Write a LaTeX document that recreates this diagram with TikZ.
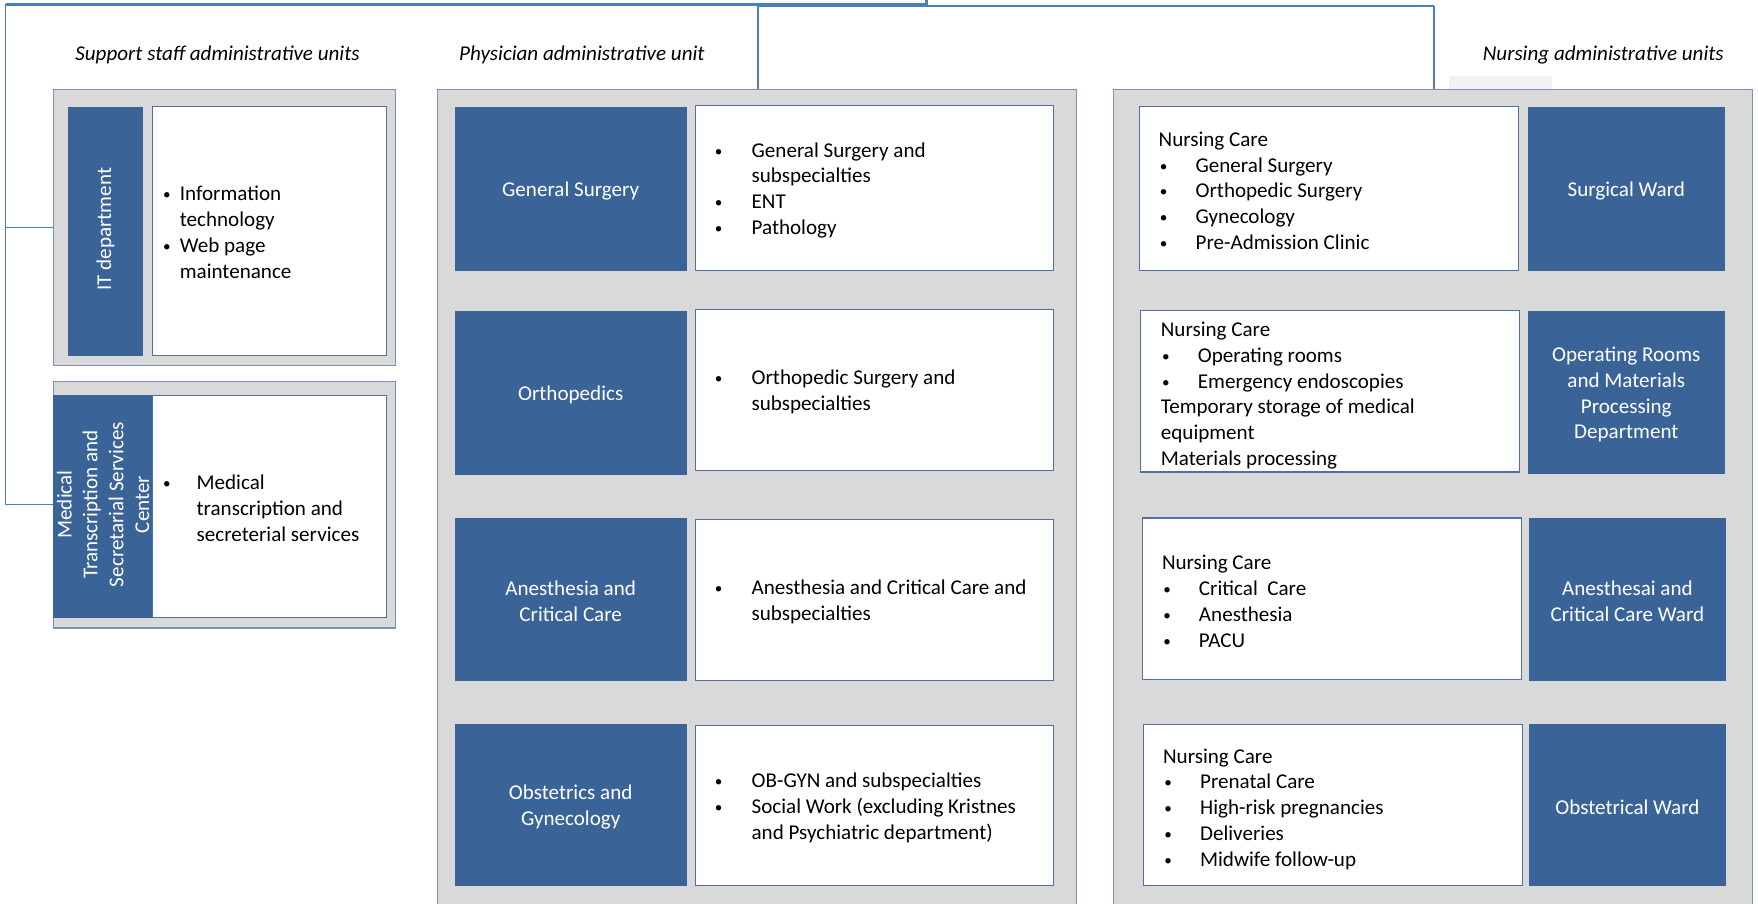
\documentclass[tikz,border=0pt]{standalone}
\usepackage{fontspec}
\setmainfont{Carlito}
\usetikzlibrary{fit}
\definecolor{darkb}{RGB}{58,100,151}
\definecolor{connblue}{RGB}{74,126,187}
\definecolor{panelgray}{RGB}{217,217,217}
\definecolor{panelline}{RGB}{120,146,184}
\definecolor{wline}{RGB}{79,112,163}
\definecolor{faint}{RGB}{242,242,242}
\newcommand\bu[1]{\makebox[#1][l]{\hspace{0.6pt}\raisebox{0.45pt}{\scalebox{0.72}{•}}}}
\begin{document}
\begin{tikzpicture}[x=0.5pt,y=-0.5pt,
  every node/.style={font=\fontsize{9.4}{11.5}\selectfont},
  panel/.style={draw=panelline, fill=panelgray, line width=0.6pt, inner sep=0pt},
  dbox/.style={fill=darkb, draw=darkb, inner sep=0pt},
  wbox/.style={fill=white, draw=wline, line width=0.5pt, inner sep=0pt},
  dtext/.style={text=white, align=center, inner sep=0pt, yshift=-1pt},
  rtext/.style={text=white, align=center, inner sep=0pt, rotate=90},
  ltext/.style={anchor=west, align=left, inner sep=0pt, text=black, yshift=-1pt},
  ttl/.style={font=\fontsize{9.4}{11.5}\selectfont\itshape, inner sep=0pt, yshift=-0.5pt},
  conn/.style={draw=connblue, line width=0.7pt}]
\useasboundingbox (0,0) rectangle (1568,806);
\clip (0,0) rectangle (1568,806);

% titles
\node[ttl] (t1) at (194,48) {Support staff administrative units};
\node[ttl] (t2) at (519,48) {Physician administrative unit};
\node[ttl] (t3) at (1430,48) {Nursing administrative units};
\fill[faint] (1292,68) rectangle (1384,80);

% panels
\node[panel, fit={(48,80)(353,326)}] (sp1) {};
\node[panel, fit={(48,340)(353,560)}] (sp2) {};
\node[panel, fit={(390,80)(960,840)}] (pp) {};
\node[panel, fit={(993,80)(1563,840)}] (np) {};

% support staff
\node[dbox, fit={(61,96)(127,317)}] (it) {};
\node[rtext, xshift=1pt] (itl) at (it.center) {IT department};
\node[wbox, fit={(136,95)(345,317)}] (itw) {};
\node[ltext] (itt) at (144,207) {\begin{tabular}{@{}l@{}l@{}}
\bu{8pt}&Information\\ &technology\\ \bu{8pt}&Web page\\ &maintenance\end{tabular}};

\node[dbox, fit={(48,353)(136,551)}] (mt) {};
\node[rtext, xshift=1pt] (mtl) at (mt.center) {Medical\\Transcription and\\Secretarial Services\\Center};
\node[wbox, fit={(136,353)(345,551)}] (mtw) {};
\node[ltext] (mtt) at (144,453) {\begin{tabular}{@{}l@{}l@{}}
\bu{15.5pt}&Medical\\ &transcription and\\ &secreterial services\end{tabular}};

% physician
\node[dbox, fit={(406,96)(612,241)}] (p1) {};
\node[dtext] (p1l) at (p1.center) {General Surgery};
\node[wbox, fit={(620,94)(940,241)}] (p1w) {};
\node[ltext] (p1t) at (636,168) {\begin{tabular}{@{}l@{}l@{}}
\bu{17pt}&General Surgery and\\ &subspecialties\\ \bu{17pt}&ENT\\ \bu{17pt}&Pathology\end{tabular}};

\node[dbox, fit={(406,278)(612,423)}] (p2) {};
\node[dtext] (p2l) at (p2.center) {Orthopedics};
\node[wbox, fit={(620,276)(940,420)}] (p2w) {};
\node[ltext] (p2t) at (636,348) {\begin{tabular}{@{}l@{}l@{}}
\bu{17pt}&Orthopedic Surgery and\\ &subspecialties\end{tabular}};

\node[dbox, fit={(406,462)(612,607)}] (p3) {};
\node[dtext] (p3l) at (p3.center) {Anesthesia and\\Critical Care};
\node[wbox, fit={(620,463)(940,607)}] (p3w) {};
\node[ltext] (p3t) at (636,535) {\begin{tabular}{@{}l@{}l@{}}
\bu{17pt}&Anesthesia and Critical Care and\\ &subspecialties\end{tabular}};

\node[dbox, fit={(406,646)(612,790)}] (p4) {};
\node[dtext] (p4l) at (p4.center) {Obstetrics and\\Gynecology};
\node[wbox, fit={(620,647)(940,790)}] (p4w) {};
\node[ltext] (p4t) at (636,719) {\begin{tabular}{@{}l@{}l@{}}
\bu{17pt}&OB-GYN and subspecialties\\ \bu{17pt}&Social Work (excluding Kristnes\\ &and Psychiatric department)\end{tabular}};

% nursing
\node[wbox, fit={(1016,95)(1354,241)}] (n1w) {};
\node[ltext] (n1t) at (1033,170) {\begin{tabular}{@{}l@{}l@{}}
\multicolumn{2}{@{}l@{}}{Nursing Care}\\
\bu{16.5pt}&General Surgery\\ \bu{16.5pt}&Orthopedic Surgery\\ \bu{16.5pt}&Gynecology\\ \bu{16.5pt}&Pre-Admission Clinic\end{tabular}};
\node[dbox, fit={(1363,96)(1538,241)}] (n1) {};
\node[dtext] (n1l) at (n1.center) {Surgical Ward};

\node[wbox, fit={(1017,277)(1355,421)}] (n2w) {};
\node[ltext] (n2t) at (1035,351) {\begin{tabular}{@{}l@{}l@{}}
\multicolumn{2}{@{}l@{}}{Nursing Care}\\
\bu{16.5pt}&Operating rooms\\ \bu{16.5pt}&Emergency endoscopies\\
\multicolumn{2}{@{}l@{}}{Temporary storage of medical}\\
\multicolumn{2}{@{}l@{}}{equipment}\\
\multicolumn{2}{@{}l@{}}{Materials processing}\end{tabular}};
\node[dbox, fit={(1363,278)(1538,422)}] (n2) {};
\node[dtext] (n2l) at (n2.center) {Operating Rooms\\and Materials\\Processing\\Department};

\node[wbox, fit={(1019,462)(1357,606)}] (n3w) {};
\node[ltext] (n3t) at (1036,536) {\begin{tabular}{@{}l@{}l@{}}
\multicolumn{2}{@{}l@{}}{Nursing Care}\\
\bu{16.5pt}&Critical\ \ Care\\ \bu{16.5pt}&Anesthesia\\ \bu{16.5pt}&PACU\end{tabular}};
\node[dbox, fit={(1364,462)(1539,607)}] (n3) {};
\node[dtext] (n3l) at (n3.center) {Anesthesai and\\Critical Care Ward};

\node[wbox, fit={(1020,646)(1358,790)}] (n4w) {};
\node[ltext] (n4t) at (1037,720) {\begin{tabular}{@{}l@{}l@{}}
\multicolumn{2}{@{}l@{}}{Nursing Care}\\
\bu{16.5pt}&Prenatal Care\\ \bu{16.5pt}&High-risk pregnancies\\ \bu{16.5pt}&Deliveries\\ \bu{16.5pt}&Midwife follow-up\end{tabular}};
\node[dbox, fit={(1364,646)(1539,790)}] (n4) {};
\node[dtext] (n4l) at (n4.center) {Obstetrical Ward};

% connectors
\coordinate (top) at (826,-2);
\coordinate (j) at (826,4);
\coordinate (jL) at (5,4);
\coordinate (jP) at (676,5.5);
\coordinate (jN) at (1279,5.5);
\draw[conn, line width=1.4pt] (top) -- (j) -- (jL);
\draw[conn] (jL) |- (sp2.west);
\draw[conn] (jL |- sp1.west) -- (sp1.west);
\draw[conn] (jP) -- (jN);
\draw[conn] (jP) -- (jP |- pp.north);
\draw[conn] (jN) -- (jN |- np.north);
\end{tikzpicture}
\end{document}
